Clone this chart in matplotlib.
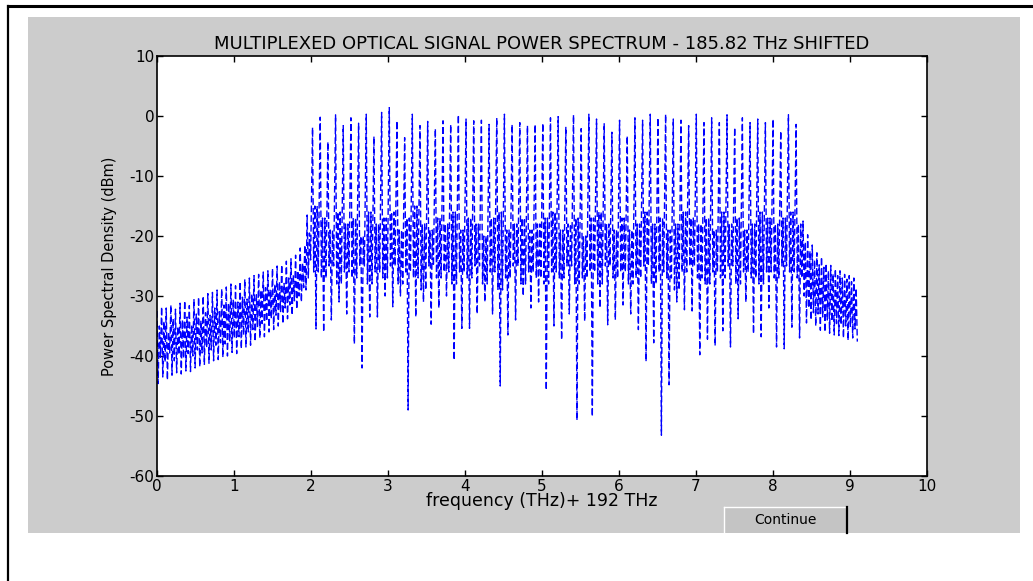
import numpy as np
import matplotlib.pyplot as plt
from matplotlib.patches import Rectangle
from matplotlib.lines import Line2D

plt.rcParams['font.family'] = ['DejaVu Sans']
plt.rcParams['axes.unicode_minus'] = False

# left side-lobe band, 0 .. 1.89 THz (upper / lower swing of each column)
left_hi = [-32.5, -35.0, -31.8, -34.2, -32.0, -36.0, -31.5, -33.8, -32.2, -35.1,
           -31.2, -34.0, -30.8, -33.5, -31.6, -34.8, -30.5, -33.0, -30.2, -34.1,
           -30.0, -32.8, -29.6, -33.2, -29.4, -32.0, -29.0, -32.6, -28.8, -31.5,
           -28.5, -31.2, -28.0, -30.6, -28.3, -31.0, -27.6, -30.2, -27.2, -30.5,
           -27.0, -29.6, -26.6, -29.8, -26.4, -29.0, -26.0, -28.6, -25.8, -28.9,
           -25.4, -28.0, -25.0, -27.6, -24.8, -27.9, -24.2, -27.0, -23.8, -26.5,
           -23.2, -25.8, -22.0, -24.5]
left_lo = [-44.6, -40.2, -43.5, -41.0, -44.0, -39.5, -43.2, -40.8, -42.8, -39.8,
           -43.0, -40.4, -42.5, -39.6, -42.6, -40.0, -42.0, -39.0, -41.8, -39.5,
           -41.5, -38.6, -41.2, -39.0, -40.8, -38.2, -40.6, -37.8, -40.2, -38.0,
           -40.0, -37.5, -39.4, -37.0, -39.6, -36.8, -38.8, -36.5, -38.5, -36.0,
           -38.2, -35.6, -37.6, -35.2, -37.0, -34.6, -36.8, -34.2, -36.0, -33.8,
           -35.6, -33.2, -35.0, -32.6, -34.6, -32.0, -33.8, -31.5, -33.2, -30.8,
           -32.2, -30.0, -31.0, -28.6]

# rise into the first channel
rise_f = [1.92, 1.935, 1.95, 1.965, 1.98, 1.995]
rise_db = [-21.5, -29.0, -16.5, -27.0, -19.5, -24.0]

# 64 WDM channels, 2.02 .. 8.30 THz
ch_peak = [-1.9, -0.2, -4.3, 0.2, -1.6, -0.3, -1.2, 0.3, -3.4, 0.6,
           1.4, -0.8, -3.6, 0.3, -1.6, -0.9, -2.1, -0.8, -1.4, 0.2,
           -0.5, -0.8, -0.7, -1.4, -0.3, 0.3, -1.4, -1.1, -1.6, -1.4,
           -1.2, -0.3, -0.1, -1.8, 0.2, -2.1, 0.3, -0.5, -1.2, -2.7,
           -0.7, -3.3, -0.3, -0.7, 0.3, -0.3, 0.3, -0.5, -0.7, -1.6,
           0.3, -1.1, -0.3, -1.1, 0.2, -1.9, -0.3, -1.1, -0.5, -1.1,
           -0.5, -2.5, 0.2, -1.4]
ch_hi = [-15, -17, -19, -16, -18, -17, -20, -16, -18, -17,
         -16, -19, -17, -15, -18, -19, -17, -18, -16, -19,
         -17, -18, -20, -17, -16, -19, -18, -17, -19, -18,
         -17, -16, -19, -18, -17, -20, -17, -16, -18, -19,
         -17, -19, -18, -16, -18, -17, -19, -18, -16, -17,
         -18, -17, -19, -16, -18, -17, -19, -18, -16, -17,
         -18, -17, -16, -18]
ch_lo = [-26, -27, -25, -28, -26, -27, -25, -28, -26, -27,
         -25, -28, -26, -27, -29, -25, -27, -26, -28, -26,
         -27, -25, -28, -26, -29, -27, -25, -28, -26, -27,
         -28, -26, -27, -25, -28, -27, -26, -28, -25, -27,
         -26, -28, -27, -25, -28, -26, -27, -29, -26, -25,
         -27, -28, -26, -27, -25, -28, -26, -27, -28, -26,
         -27, -25, -26, -27]
ch_dip = [-35.5, -36.0, -34.0, -31.0, -33.0, -38.0, -42.0, -33.5, -33.5, -30.0,
          -31.8, -30.0, -49.0, -33.5, -31.0, -34.7, -32.0, -30.0, -40.7, -35.4,
          -35.4, -33.0, -31.0, -33.0, -45.0, -36.5, -34.0, -30.0, -32.0, -31.0,
          -45.7, -35.0, -37.3, -33.0, -50.7, -34.2, -50.1, -32.0, -34.8, -34.0,
          -31.5, -33.0, -35.6, -40.9, -37.8, -53.2, -44.8, -31.0, -32.3, -32.5,
          -39.8, -37.2, -38.3, -35.8, -38.5, -33.8, -31.0, -36.3, -36.8, -32.0,
          -38.5, -38.8, -35.2, -37.0]

# right side-lobe band, 8.39 .. 9.08 THz
right_hi = [-17.5, -21.0, -19.8, -22.5, -21.5, -24.0, -22.8, -24.8, -23.5, -25.2,
            -24.6, -25.8, -24.9, -26.3, -25.5, -26.6, -25.8, -27.0, -26.4, -27.2,
            -26.6, -27.6, -27.0, -28.7]
right_lo = [-30.0, -34.5, -32.0, -34.0, -32.8, -35.0, -33.0, -35.7, -33.5, -36.0,
            -34.0, -36.2, -34.2, -36.5, -34.6, -36.6, -34.8, -37.0, -35.0, -37.4,
            -35.2, -37.0, -35.5, -37.6]

title = 'MULTIPLEXED OPTICAL SIGNAL POWER SPECTRUM - 185.82 THz SHIFTED'
xlabel = 'frequency (THz)+ 192 THz'
ylabel = 'Power Spectral Density (dBm)'

# assemble the trace
left_f = np.arange(len(left_hi)) * 0.03
ch_f = np.linspace(2.02, 8.30, len(ch_peak))
right_f = np.linspace(8.39, 9.08, len(right_hi))

xs, ys = [], []
for f, hi, lo in zip(left_f, left_hi, left_lo):
    xs += [f, f + 0.015]
    ys += [hi, lo]
xs += rise_f
ys += rise_db
offs = [0, 0.015, 0.03, 0.045, 0.06, 0.075]
for f, pk, hi, lo, dp in zip(ch_f, ch_peak, ch_hi, ch_lo, ch_dip):
    xs += [f + o for o in offs]
    ys += [pk, lo, hi, dp, hi, lo]
for f, hi, lo in zip(right_f, right_hi, right_lo):
    xs += [f, f + 0.015]
    ys += [hi, lo]

W, H = 1033, 581
fig = plt.figure(figsize=(W / 100, H / 100), dpi=100, facecolor='white')

# grey figure window and page frame
fig.patches.append(Rectangle((28 / W, 1 - 533 / H), 992 / W, 516 / H,
                             transform=fig.transFigure, facecolor='#cccccc',
                             edgecolor='none', zorder=-5))
fig.lines.append(Line2D([8 / W, 1], [1 - 6 / H, 1 - 6 / H], transform=fig.transFigure,
                        color='black', lw=2.2))
fig.lines.append(Line2D([8 / W, 8 / W], [0, 1 - 6 / H], transform=fig.transFigure,
                        color='black', lw=1.6))

ax = fig.add_axes([157 / W, 1 - 476 / H, 770 / W, 420 / H])
ax.set_zorder(1)
ax.plot(xs, ys, color='#0000ff', lw=1.0, linestyle=(0, (4.8, 2.2)))

ax.set_xlim(0, 10)
ax.set_ylim(-60, 10)
ax.set_xticks(range(0, 11))
ax.set_yticks(range(-60, 11, 10))
ax.tick_params(direction='in', top=True, right=True, length=4, width=1,
               labelsize=11, pad=2, colors='black')
for s in ax.spines.values():
    s.set_linewidth(1.2)
ax.set_title(title, fontsize=13, pad=5)
ax.set_xlabel(xlabel, fontsize=12.5, labelpad=-1)
ax.set_ylabel(ylabel, fontsize=10.5, labelpad=9)

# Continue button
bx, by, bw, bh = 724, 507, 123, 26
fig.patches.append(Rectangle((bx / W, 1 - (by + bh) / H), bw / W, bh / H,
                             transform=fig.transFigure, facecolor='#c4c4c4',
                             edgecolor='none', zorder=1))
fig.lines.append(Line2D([bx / W, (bx + bw) / W], [1 - by / H] * 2,
                        transform=fig.transFigure, color='white', lw=1))
fig.lines.append(Line2D([bx / W] * 2, [1 - by / H, 1 - (by + bh) / H],
                        transform=fig.transFigure, color='white', lw=1))
fig.lines.append(Line2D([(bx + bw) / W] * 2, [1 - by / H, 1 - (by + bh) / H],
                        transform=fig.transFigure, color='black', lw=1.6))
fig.text((bx + bw / 2) / W, 1 - (by + bh / 2) / H, 'Continue', fontsize=10,
         ha='center', va='center')

fig.savefig('out.png', dpi=100, facecolor='white')
